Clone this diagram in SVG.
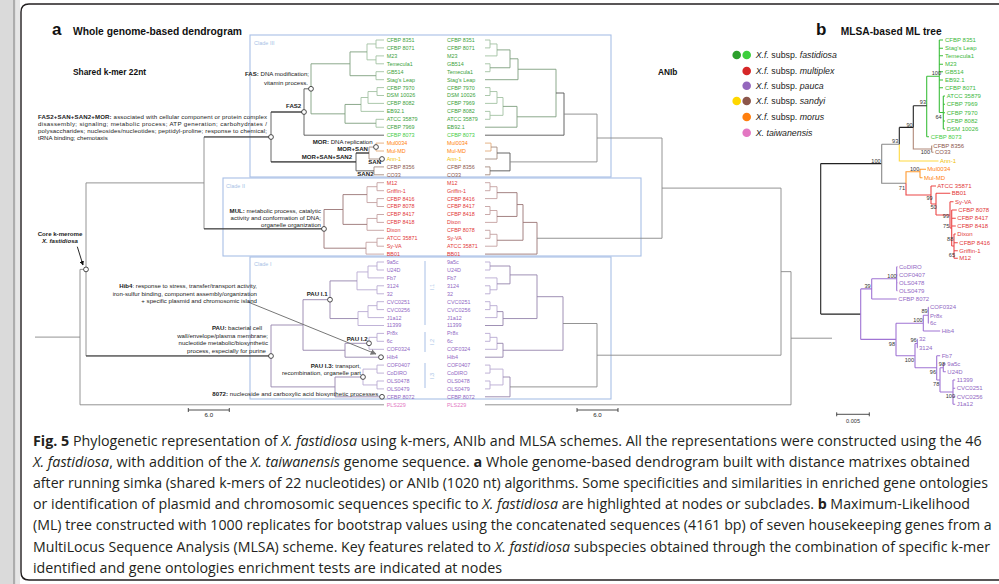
<svg xmlns="http://www.w3.org/2000/svg" width="999" height="584" viewBox="0 0 999 584">
<defs>
<marker id="ah" viewBox="0 0 10 10" refX="9" refY="5" markerWidth="5" markerHeight="5" orient="auto"><path d="M0 0L10 5L0 10z" fill="#111"/></marker>
<marker id="ahg" viewBox="0 0 10 10" refX="9" refY="5" markerWidth="6" markerHeight="6" orient="auto"><path d="M0 0L10 5L0 10z" fill="#777"/></marker>
</defs>
<style>
.t{font-family:'Liberation Sans',Arial,sans-serif}
.cap{font-family:'Open Sans','Liberation Sans',sans-serif;font-size:14px;fill:#231f20}
.lf{font-size:5.4px}
.lb{font-size:6px}
.an{font-size:6.1px;fill:#222}
.bs{font-size:5.6px;fill:#333}
.b{font-weight:bold}
.i{font-style:italic}
.gf{fill:#3c9f3c}.gb{fill:#3cb83c}.gl{fill:#44cc44}.rd{fill:#e23838}.pu{fill:#9168c4}.yl{fill:#f0c000}.br{fill:#8c564b}.or{fill:#ff7f0e}.pk{fill:#e377c2}
.L{fill:none;stroke-width:0.9}
.s1{stroke:#a3c2a3}.s2{stroke:#7f9f7f}.s3{stroke:#555}.s4{stroke:#888}.s5{stroke:#e2ab7a}.s6{stroke:#a58c80}
.s7{stroke:#c4a0a0}.s8{stroke:#9a7575}.s9{stroke:#b9aad2}.s10{stroke:#9585ad}.hl{stroke:#2a2a2a}
.box{fill:none;stroke:#a8bfe6;stroke-width:1.1}
.cl{font-size:5.5px;fill:#a8bfe6}
.nd{fill:#fff;stroke:#222;stroke-width:0.8}
.B{fill:none;stroke-width:1.1}
</style>
<rect x="0" y="0" width="999" height="584" fill="#fff"/>
<rect x="0" y="0" width="13" height="584" fill="#dadada"/>
<rect x="13" y="0" width="2.5" height="584" fill="#acacac"/>
<rect x="15.5" y="0" width="4.5" height="584" fill="#e6e6e6"/>
<path d="M1010 4H29Q21 4 21 12V572Q21 580 29 580H1010" fill="none" stroke="#231f20" stroke-width="1.4"/>

<g id="panel-a-titles" class="t">
<text x="52" y="35" font-size="17" font-weight="bold" fill="#111">a</text>
<text x="73" y="35" font-size="10.3" class="b" fill="#111" textLength="169">Whole genome-based dendrogram</text>
<text x="73" y="75" font-size="8.4" class="b" fill="#111">Shared k-mer 22nt</text>
<text x="658" y="75" font-size="8.3" class="b" fill="#111">ANIb</text>
</g>

<g id="clade-boxes" class="t">
<rect class="box" x="250" y="35" width="361" height="142"/>
<rect class="box" x="223" y="178" width="418" height="78"/>
<rect class="box" x="250" y="257" width="361" height="142"/>
<text class="cl" x="254" y="45">Clade III</text>
<text class="cl" x="226" y="188">Clade II</text>
<text class="cl" x="254" y="266">Clade I</text>
<path d="M425 261V325M425 332V352M425 363V388" stroke="#a8bfe6" stroke-width="1" fill="none"/>
<text class="cl" transform="translate(434 287) rotate(-90)" text-anchor="middle">I.1</text>
<text class="cl" transform="translate(434 342) rotate(-90)" text-anchor="middle">I.2</text>
<text class="cl" transform="translate(434 376) rotate(-90)" text-anchor="middle">I.3</text>
</g>

<g id="connectors">
<g id="kmer-tree">
<path class="L s1" d="M384 40H376V47.9H384M384 55.9H376V63.8H384M376 43.95H367V59.85H376M384 71.7H376V79.7H384M384 87.6H377V95.5H384M377 91.55H368V103.4H384M368 97.5H361V111.4H384M384 119.3H376V127.2H384"/>
<path class="L s2" d="M367 51.9H350V75.7H376M361 104.45H345V123.25H376M350 63.8H311V113.85H345"/>
<path class="L s3" d="M311 88.8H304V135.2H384"/>
<path class="L s5" d="M384 143.1H376V151H384"/>
<path class="L s6" d="M376 147.05H369V159H384M384 166.9H374V174.8H384"/>
<path class="L s3" d="M369 153H356V170.85H374M304 112H271V161.9H356"/>
<path class="L s7" d="M384 182.7H377V190.7H384M384 198.6H377V206.5H384M377 186.7H367V202.55H377M384 214.5H377V222.4H384M377 218.45H367V230.3H384M384 238.3H377V246.2H384M377 242.25H366V254.1H384"/>
<path class="L s8" d="M367 194.6H343V224.4H367M343 209.5H324V248.2H366"/>
<path class="L s4" d="M271 136.95H204V228.85H324"/>
<path class="L s9" d="M384 262H377V270H384M377 266H368V277.9H384M384 285.8H377V293.8H384M368 271.95H357V289.8H377M384 301.7H377V309.6H384M377 305.65H368V317.6H384M368 311.6H358V325.5H384M384 333.4H377V341.3H384M377 337.35H369V349.3H384M384 365.1H377V373.1H384M384 381H377V388.9H384M377 369.1H363V384.95H377"/>
<path class="L s10" d="M357 280.9H330V318.55H358M369 343.3H345V357.2H384M330 299.7H303V350.25H345M363 377H335V396.8H384M303 325H271V386.9H335"/>
<path class="L s4" d="M204 182.9H86V355.95H271M86 269.4H80V404.8H384M80 337.1H35"/>
<path class="L hl" d="M271 112H304M271 161.9H356M356 153H369M204 228.85H324M204 136.95H271M86 355.95H271"/>
</g>
<g id="anib-tree">
<path class="L s1" d="M485 40H490V47.9H485M490 43.95H497V55.9H485M485 63.8H490V71.7H485M485 87.6H490V95.5H485M490 91.55H497V103.4H485M485 111.4H490V119.3H485M497 97.5H503V115.35H490"/>
<path class="L s2" d="M497 49.9H510V67.75H490M510 58.8H518V79.7H485M503 106.4H517V127.2H485M518 69.25H556V116.8H517"/>
<path class="L s3" d="M556 93H564V135.2H485"/>
<path class="L s5" d="M485 143.1H491V151H485"/>
<path class="L s6" d="M491 147.05H497V159H485M485 166.9H490V174.8H485"/>
<path class="L s3" d="M497 153H510V170.85H490"/>
<path class="L s4" d="M564 114.1H597V161.9H510"/>
<path class="L s7" d="M485 182.7H490V190.7H485M490 186.7H497V198.6H485M485 206.5H490V214.5H485M490 210.5H497V222.4H485M485 230.3H490V238.3H485M490 234.3H497V246.2H485"/>
<path class="L s8" d="M497 192.65H517V216.45H497M517 204.55H523V240.25H497M523 222.4H537V254.1H485"/>
<path class="L s4" d="M597 138H662V238.25H537"/>
<path class="L s9" d="M485 262H490V270H485M485 285.8H490V293.8H485M485 277.9H497V289.8H490M485 301.7H490V309.6H485M490 305.65H497V317.6H485M485 333.4H490V341.3H485M490 337.35H497V349.3H485M485 365.1H490V373.1H485M485 381H490V388.9H485M490 369.1H503V384.95H490"/>
<path class="L s10" d="M490 266H510V283.85H497M497 311.6H503V325.5H485M510 274.9H537V318.55H503M497 343.3H503V357.2H485M537 296.7H563V350.25H503M503 377H510V396.8H485"/>
<path class="L s4" d="M563 323.5H597V386.9H510M662 188.1H781V355.2H597M781 271.65H791V404.8H485M791 338.2H832"/>
</g>
<g id="mlsa-tree">
<path class="B" stroke="#3cbf3c" d="M939.3 40V112.5M939.3 40H943M939.3 48.3H943M939.3 55.7H943M939.3 64.3H943M939.3 71.7H943M939.3 80H943M939.3 87.7H943M939.3 112.5H943.3M943.3 96V129M943.3 96H945M943.3 104.3H945M943.3 112.7H945M943.3 121H945M943.3 129H945M926.7 76.3V136.7M926.7 76.3H939.3M926.7 136.7H929"/>
<path class="B" stroke="#b08878" d="M913.3 127.4V149H931.7M931.7 145.7V152.3M931.7 145.7H932.3M931.7 152.3H933.5"/>
<path class="B" stroke="#ffd940" d="M899.3 144.2V161H938.5"/>
<path class="B" stroke="#222" d="M913.3 105.8H926.7M913.3 105.8V127.4M899.3 127.4H913.3M899.3 127.4V144.2M820.7 163.6H881.7M820.7 163.6V314.1M820.7 314.1H860.7"/>
<path class="B" stroke="#888" d="M881.7 144.2H899.3M881.7 144.2V183.3H906"/>
<path class="B" stroke="#ff9a30" d="M906 183.3V171.7H920M920 169.3V177.7M920 169.3H926M920 177.7H922.5"/>
<path class="B" stroke="#ec4646" d="M906 183.3V195H931M931 186V204M931 186H936M931 204H936M936 193.3V215M936 193.3H950.3M936 215H950M950 201.7V228M950 201.7H953.5M950 228H951.7M951.7 210V246M951.7 210H956.8M951.7 218.3H955.8M951.7 226H955.8M951.7 246H954M954 234V258.3M954 234H955.8M954 242.7H957.8M954 250.7H957.8M954 258.3H957.8"/>
<path class="B" stroke="#a074d4" d="M860.7 288.9V339.4M860.7 288.9H871.7M860.7 339.4H896M871.7 278.7V299M871.7 278.7H896.7M871.7 299H896.8M896.7 266.7V290.7M896.7 266.7H897.5M896.7 275H897.5M896.7 282.7H897.5M896.7 290.7H897.5M896 323.2V355.7M896 323.2H923.3M896 355.7H915M923.3 315.3V331M923.3 315.3H928.3M923.3 331H940.2M928.3 307.3V323.3M928.3 307.3H928.8M928.3 315.7H928.8M928.3 323.3H928.8M915 343.5V367.8M915 343.5H917.3M915 367.8H936.7M917.3 339.3V347.7M917.3 339.3H917.8M917.3 347.7H917.8M936.7 355.7V380M936.7 355.7H940.2M936.7 380H940M940 367.8V392M940 367.8H943.3M940 392H953M943.3 364V371.7M943.3 364H945.8M943.3 371.7H945.8M953 380V404.3M953 380H955.2M953 388.3H955.2M953 396.7H955.2M953 404.3H955.2"/>
</g>
<path id="hib4-arrow" d="M248 302L376 354" stroke="#777" stroke-width="1" fill="none" marker-end="url(#ahg)"/>
<path id="core-arrow" d="M77.3 246.7L83 265" stroke="#111" stroke-width="0.9" fill="none" marker-end="url(#ah)"/>
</g>

<g id="nodes">
<circle class="nd" cx="311" cy="88.8" r="2.4"/>
<circle class="nd" cx="304" cy="112" r="2.4"/>
<circle class="nd" cx="271" cy="137" r="2.4"/>
<circle class="nd" cx="376" cy="147" r="2.4"/>
<circle class="nd" cx="382" cy="159" r="2.4"/>
<circle class="nd" cx="324" cy="228.9" r="2.4"/>
<circle class="nd" cx="86" cy="269.4" r="2.4"/>
<circle class="nd" cx="330" cy="299.7" r="2.4"/>
<circle class="nd" cx="369" cy="343.3" r="2.4"/>
<circle class="nd" cx="381" cy="357.2" r="2.4"/>
<circle class="nd" cx="363" cy="377" r="2.4"/>
<circle class="nd" cx="271" cy="356" r="2.4"/>
<circle class="nd" cx="382" cy="396.8" r="2.4"/>
</g>

<g id="annotations" class="t an">
<text x="38" y="118.8" textLength="229" lengthAdjust="spacing"><tspan class="b">FAS2+SAN+SAN2+MOR:</tspan> associated with cellular component or protein complex</text>
<text x="38" y="126.1" textLength="229" lengthAdjust="spacing">disassembly; signaling; metabolic process; ATP generation; carbohydrates /</text>
<text x="38" y="132.9" textLength="229" lengthAdjust="spacing">polysaccharides; nucleosides/nucleotides; peptidyl-proline; response to chemical;</text>
<text x="38" y="139.9">tRNA binding; chemotaxis</text>
<text x="309" y="76.2" text-anchor="end"><tspan class="b">FAS:</tspan> DNA modification;</text>
<text x="308" y="84.9" text-anchor="end">vitamin process.</text>
<text x="286" y="108.2" class="b">FAS2</text>
<text x="312.7" y="143.9"><tspan class="b">MOR:</tspan> DNA replication</text>
<text x="337.3" y="151.2" class="b">MOR+SAN</text>
<text x="301.7" y="158.9" class="b">MOR+SAN+SAN2</text>
<text x="368.3" y="163.9" class="b">SAN</text>
<text x="357.3" y="176.2" class="b">SAN2</text>
<text x="321" y="212.8" text-anchor="end"><tspan class="b">MUL:</tspan> metabolic process, catalytic</text>
<text x="321" y="220.3" text-anchor="end">activity and conformation of DNA;</text>
<text x="321" y="227.4" text-anchor="end">organelle organization</text>
<text x="60" y="235.5" text-anchor="middle" class="b">Core k-merome</text>
<text x="60" y="243" text-anchor="middle" class="b i">X. fastidiosa</text>
<text x="257" y="288" text-anchor="end"><tspan class="b">Hib4</tspan>: response to stress, transfer/transport activity,</text>
<text x="257" y="295.5" text-anchor="end">iron-sulfur binding, component assembly/organization</text>
<text x="257" y="303" text-anchor="end">+ specific plasmid and chromosomic island</text>
<text x="262" y="330.4" text-anchor="end"><tspan class="b">PAU:</tspan> bacterial cell</text>
<text x="268" y="337.8" text-anchor="end">wall/envelope/plasma membrane;</text>
<text x="268" y="345.4" text-anchor="end">nucleotide metabolic/biosynthetic</text>
<text x="266" y="352.8" text-anchor="end">process, especially for purine</text>
<text x="306.7" y="295.5" class="b">PAU I.1</text>
<text x="346.7" y="340.5" class="b">PAU I.2</text>
<text x="361" y="368.2" text-anchor="end"><tspan class="b">PAU I.3:</tspan> transport,</text>
<text x="361" y="374.9" text-anchor="end">recombination, organelle part</text>
<text x="212.3" y="395.5" textLength="166"><tspan class="b">8072:</tspan> nucleoside and carboxylic acid biosynthetic processes</text>
<path d="M188.3 410H229.3M188.3 408V412M229.3 408V412M577 410H618M577 408V412M618 408V412" stroke="#222" stroke-width="0.8" fill="none"/>
<text x="208.8" y="416.5" text-anchor="middle">6.0</text>
<text x="597.5" y="416.5" text-anchor="middle">6.0</text>
</g>

<g id="kmer-leaves" class="t lf">
<text x="386.7" y="41.9" class="gf">CFBP 8351</text>
<text x="386.7" y="49.8" class="gf">CFBP 8071</text>
<text x="386.7" y="57.8" class="gf">M23</text>
<text x="386.7" y="65.7" class="gf">Temecula1</text>
<text x="386.7" y="73.6" class="gf">GB514</text>
<text x="386.7" y="81.6" class="gf">Stag's Leap</text>
<text x="386.7" y="89.5" class="gf">CFBP 7970</text>
<text x="386.7" y="97.4" class="gf">DSM 10026</text>
<text x="386.7" y="105.3" class="gf">CFBP 8082</text>
<text x="386.7" y="113.3" class="gf">EB92.1</text>
<text x="386.7" y="121.2" class="gf">ATCC 35879</text>
<text x="386.7" y="129.1" class="gf">CFBP 7969</text>
<text x="386.7" y="137.1" class="gl">CFBP 8073</text>
<text x="386.7" y="145" class="or">Mul0034</text>
<text x="386.7" y="152.9" class="or">Mul-MD</text>
<text x="386.7" y="160.9" class="yl">Ann-1</text>
<text x="386.7" y="168.8" class="br">CFBP 8356</text>
<text x="386.7" y="176.7" class="br">CO33</text>
<text x="386.7" y="184.6" class="rd">M12</text>
<text x="386.7" y="192.6" class="rd">Griffin-1</text>
<text x="386.7" y="200.5" class="rd">CFBP 8416</text>
<text x="386.7" y="208.4" class="rd">CFBP 8078</text>
<text x="386.7" y="216.4" class="rd">CFBP 8417</text>
<text x="386.7" y="224.3" class="rd">CFBP 8418</text>
<text x="386.7" y="232.2" class="rd">Dixon</text>
<text x="386.7" y="240.2" class="rd">ATCC 35871</text>
<text x="386.7" y="248.1" class="rd">Sy-VA</text>
<text x="386.7" y="256" class="rd">BB01</text>
<text x="386.7" y="263.9" class="pu">9a5c</text>
<text x="386.7" y="271.9" class="pu">U24D</text>
<text x="386.7" y="279.8" class="pu">Fb7</text>
<text x="386.7" y="287.7" class="pu">3124</text>
<text x="386.7" y="295.7" class="pu">32</text>
<text x="386.7" y="303.6" class="pu">CVC0251</text>
<text x="386.7" y="311.5" class="pu">CVC0256</text>
<text x="386.7" y="319.5" class="pu">J1a12</text>
<text x="386.7" y="327.4" class="pu">11399</text>
<text x="386.7" y="335.3" class="pu">Pr8x</text>
<text x="386.7" y="343.2" class="pu">6c</text>
<text x="386.7" y="351.2" class="pu">COF0324</text>
<text x="386.7" y="359.1" class="pu">Hib4</text>
<text x="386.7" y="367" class="pu">COF0407</text>
<text x="386.7" y="375" class="pu">CoDIRO</text>
<text x="386.7" y="382.9" class="pu">OLS0478</text>
<text x="386.7" y="390.8" class="pu">OLS0479</text>
<text x="386.7" y="398.7" class="pu">CFBP 8072</text>
<text x="386.7" y="406.7" class="pk">PLS229</text>
</g>

<g id="anib-leaves" class="t lf">
<text x="447" y="41.9" class="gf">CFBP 8351</text>
<text x="447" y="49.8" class="gf">CFBP 8071</text>
<text x="447" y="57.8" class="gf">M23</text>
<text x="447" y="65.7" class="gf">GB514</text>
<text x="447" y="73.6" class="gf">Temecula1</text>
<text x="447" y="81.6" class="gf">Stag's Leap</text>
<text x="447" y="89.5" class="gf">CFBP 7970</text>
<text x="447" y="97.4" class="gf">DSM 10026</text>
<text x="447" y="105.3" class="gf">CFBP 7969</text>
<text x="447" y="113.3" class="gf">CFBP 8082</text>
<text x="447" y="121.2" class="gf">ATCC 35879</text>
<text x="447" y="129.1" class="gf">EB92.1</text>
<text x="447" y="137.1" class="gl">CFBP 8073</text>
<text x="447" y="145" class="or">Mul0034</text>
<text x="447" y="152.9" class="or">Mul-MD</text>
<text x="447" y="160.9" class="yl">Ann-1</text>
<text x="447" y="168.8" class="br">CFBP 8356</text>
<text x="447" y="176.7" class="br">CO33</text>
<text x="447" y="184.6" class="rd">M12</text>
<text x="447" y="192.6" class="rd">Griffin-1</text>
<text x="447" y="200.5" class="rd">CFBP 8416</text>
<text x="447" y="208.4" class="rd">CFBP 8417</text>
<text x="447" y="216.4" class="rd">CFBP 8418</text>
<text x="447" y="224.3" class="rd">Dixon</text>
<text x="447" y="232.2" class="rd">CFBP 8078</text>
<text x="447" y="240.2" class="rd">Sy-VA</text>
<text x="447" y="248.1" class="rd">ATCC 35871</text>
<text x="447" y="256" class="rd">BB01</text>
<text x="447" y="263.9" class="pu">9a5c</text>
<text x="447" y="271.9" class="pu">U24D</text>
<text x="447" y="279.8" class="pu">Fb7</text>
<text x="447" y="287.7" class="pu">3124</text>
<text x="447" y="295.7" class="pu">32</text>
<text x="447" y="303.6" class="pu">CVC0251</text>
<text x="447" y="311.5" class="pu">CVC0256</text>
<text x="447" y="319.5" class="pu">J1a12</text>
<text x="447" y="327.4" class="pu">11399</text>
<text x="447" y="335.3" class="pu">Pr8x</text>
<text x="447" y="343.2" class="pu">6c</text>
<text x="447" y="351.2" class="pu">COF0324</text>
<text x="447" y="359.1" class="pu">Hib4</text>
<text x="447" y="367" class="pu">COF0407</text>
<text x="447" y="375" class="pu">CoDIRO</text>
<text x="447" y="382.9" class="pu">OLS0478</text>
<text x="447" y="390.8" class="pu">OLS0479</text>
<text x="447" y="398.7" class="pu">CFBP 8072</text>
<text x="447" y="406.7" class="pk">PLS229</text>
</g>

<g id="legend" class="t">
<circle cx="736.7" cy="55" r="4.3" fill="#2ca02c"/>
<circle cx="746.7" cy="55" r="4.3" fill="#3ccf3c"/>
<circle cx="746.7" cy="71" r="4.3" fill="#d62728"/>
<circle cx="746.7" cy="85.7" r="4.3" fill="#9467bd"/>
<circle cx="736.7" cy="101" r="4.3" fill="#ffd700"/>
<circle cx="746.7" cy="101" r="4.3" fill="#8c564b"/>
<circle cx="746.7" cy="117" r="4.3" fill="#ff7f0e"/>
<circle cx="746.7" cy="132.7" r="4.3" fill="#e377c2"/>
<g font-size="8.8" fill="#222">
<text x="755.7" y="58.2"><tspan class="i">X.f.</tspan> subsp. <tspan class="i">fastidiosa</tspan></text>
<text x="755.7" y="74.2"><tspan class="i">X.f.</tspan> subsp. <tspan class="i">multiplex</tspan></text>
<text x="755.7" y="88.9"><tspan class="i">X.f.</tspan> subsp. <tspan class="i">pauca</tspan></text>
<text x="755.7" y="104.2"><tspan class="i">X.f.</tspan> subsp. <tspan class="i">sandyi</tspan></text>
<text x="755.7" y="120.2"><tspan class="i">X.f.</tspan> subsp. <tspan class="i">morus</tspan></text>
<text x="755.7" y="135.9" class="i">X. taiwanensis</text>
</g>
</g>

<g id="panel-b" class="t">
<text x="816" y="35" font-size="17" font-weight="bold" fill="#111">b</text>
<text x="840.7" y="35" font-size="10.2" class="b" fill="#111" textLength="101">MLSA-based ML tree</text>
<g class="lb">
<text x="945" y="42.1" class="gb">CFBP 8351</text>
<text x="945" y="50.4" class="gb">Stag's Leap</text>
<text x="945" y="57.8" class="gb">Temecula1</text>
<text x="945" y="66.4" class="gb">M23</text>
<text x="945" y="73.8" class="gb">GB514</text>
<text x="945" y="82.1" class="gb">EB92.1</text>
<text x="945" y="89.8" class="gb">CFBP 8071</text>
<text x="946.7" y="98.1" class="gb">ATCC 35879</text>
<text x="946.7" y="106.4" class="gb">CFBP 7969</text>
<text x="946.7" y="114.8" class="gb">CFBP 7970</text>
<text x="946.7" y="123.1" class="gb">CFBP 8082</text>
<text x="946.7" y="131.1" class="gb">DSM 10026</text>
<text x="930.7" y="138.8" class="gl">CFBP 8073</text>
<text x="933.3" y="147.8" class="br">CFBP 8356</text>
<text x="935" y="154.4" class="br">CO33</text>
<text x="940" y="163.1" class="yl">Ann-1</text>
<text x="927.3" y="171.4" class="or">Mul0034</text>
<text x="924" y="179.8" class="or">Mul-MD</text>
<text x="937.3" y="188.1" class="rd">ATCC 35871</text>
<text x="951.7" y="195.4" class="rd">BB01</text>
<text x="955" y="203.8" class="rd">Sy-VA</text>
<text x="958.3" y="212.1" class="rd">CFBP 8078</text>
<text x="957.3" y="220.4" class="rd">CFBP 8417</text>
<text x="957.3" y="228.1" class="rd">CFBP 8418</text>
<text x="957.3" y="236.1" class="rd">Dixon</text>
<text x="959.3" y="244.8" class="rd">CFBP 8416</text>
<text x="959.3" y="252.8" class="rd">Griffin-1</text>
<text x="959.3" y="260.4" class="rd">M12</text>
<text x="899" y="268.8" class="pu">CoDIRO</text>
<text x="899" y="277.1" class="pu">COF0407</text>
<text x="899" y="284.8" class="pu">OLS0478</text>
<text x="899" y="292.8" class="pu">OLS0479</text>
<text x="898.3" y="301.1" class="pu">CFBP 8072</text>
<text x="930" y="309.4" class="pu">COF0324</text>
<text x="930" y="317.8" class="pu">Pr8x</text>
<text x="930" y="325.4" class="pu">6c</text>
<text x="941.7" y="333.1" class="pu">Hib4</text>
<text x="919" y="341.4" class="pu">32</text>
<text x="919" y="349.8" class="pu">3124</text>
<text x="941.7" y="357.8" class="pu">Fb7</text>
<text x="947.3" y="366.1" class="pu">9a5c</text>
<text x="947.3" y="373.8" class="pu">U24D</text>
<text x="956.7" y="382.1" class="pu">11399</text>
<text x="956.7" y="390.4" class="pu">CVC0251</text>
<text x="956.7" y="398.8" class="pu">CVC0256</text>
<text x="956.7" y="406.4" class="pu">J1a12</text>
</g>
<g class="bs" text-anchor="end">
<text x="941" y="74.5">100</text>
<text x="941.7" y="119">64</text>
<text x="926" y="104">93</text>
<text x="912.7" y="126.5">90</text>
<text x="898.3" y="143">93</text>
<text x="930" y="154">100</text>
<text x="880.7" y="163">100</text>
<text x="919.3" y="171">100</text>
<text x="905" y="190">71</text>
<text x="932.7" y="200">99</text>
<text x="936.7" y="209">50</text>
<text x="949" y="218">99</text>
<text x="949.3" y="228">75</text>
<text x="953.3" y="240.5">88</text>
<text x="955" y="256.5">65</text>
<text x="896.7" y="278">100</text>
<text x="870.7" y="288">39</text>
<text x="927.7" y="313">89</text>
<text x="922.7" y="321.5">100</text>
<text x="916.7" y="341.5">96</text>
<text x="895" y="345.5">98</text>
<text x="914" y="361.5">100</text>
<text x="945" y="366">98</text>
<text x="936" y="374">96</text>
<text x="939.3" y="385.5">78</text>
<text x="955" y="398">100</text>
</g>
<path d="M836.7 414.3H869.3M836.7 412.3V416.3M869.3 412.3V416.3" stroke="#222" stroke-width="0.8" fill="none"/>
<text x="853" y="422.5" text-anchor="middle" class="bs">0.005</text>
</g>

<g id="caption" class="cap">
<text x="33" y="445.5" textLength="948.7" lengthAdjust="spacingAndGlyphs"><tspan font-weight="bold">Fig. 5</tspan> Phylogenetic representation of <tspan font-style="italic">X. fastidiosa</tspan> using k-mers, ANIb and MLSA schemes. All the representations were constructed using the 46</text>
<text x="33" y="466.7" textLength="937" lengthAdjust="spacingAndGlyphs"><tspan font-style="italic">X. fastidiosa</tspan>, with addition of the <tspan font-style="italic">X. taiwanensis</tspan> genome sequence. <tspan font-weight="bold">a</tspan> Whole genome-based dendrogram built with distance matrixes obtained</text>
<text x="33" y="487.9" textLength="955" lengthAdjust="spacingAndGlyphs">after running simka (shared k-mers of 22 nucleotides) or ANIb (1020 nt) algorithms. Some specificities and similarities in enriched gene ontologies</text>
<text x="33" y="509.1" textLength="937" lengthAdjust="spacingAndGlyphs">or identification of plasmid and chromosomic sequences specific to <tspan font-style="italic">X. fastidiosa</tspan> are highlighted at nodes or subclades. <tspan font-weight="bold">b</tspan> Maximum-Likelihood</text>
<text x="33" y="530.3" textLength="958.7" lengthAdjust="spacingAndGlyphs">(ML) tree constructed with 1000 replicates for bootstrap values using the concatenated sequences (4161 bp) of seven housekeeping genes from a</text>
<text x="33" y="551.5" textLength="957" lengthAdjust="spacingAndGlyphs">MultiLocus Sequence Analysis (MLSA) scheme. Key features related to <tspan font-style="italic">X. fastidiosa</tspan> subspecies obtained through the combination of specific k-mer</text>
<text x="33" y="572.7" textLength="469" lengthAdjust="spacingAndGlyphs">identified and gene ontologies enrichment tests are indicated at nodes</text>
</g>
</svg>
